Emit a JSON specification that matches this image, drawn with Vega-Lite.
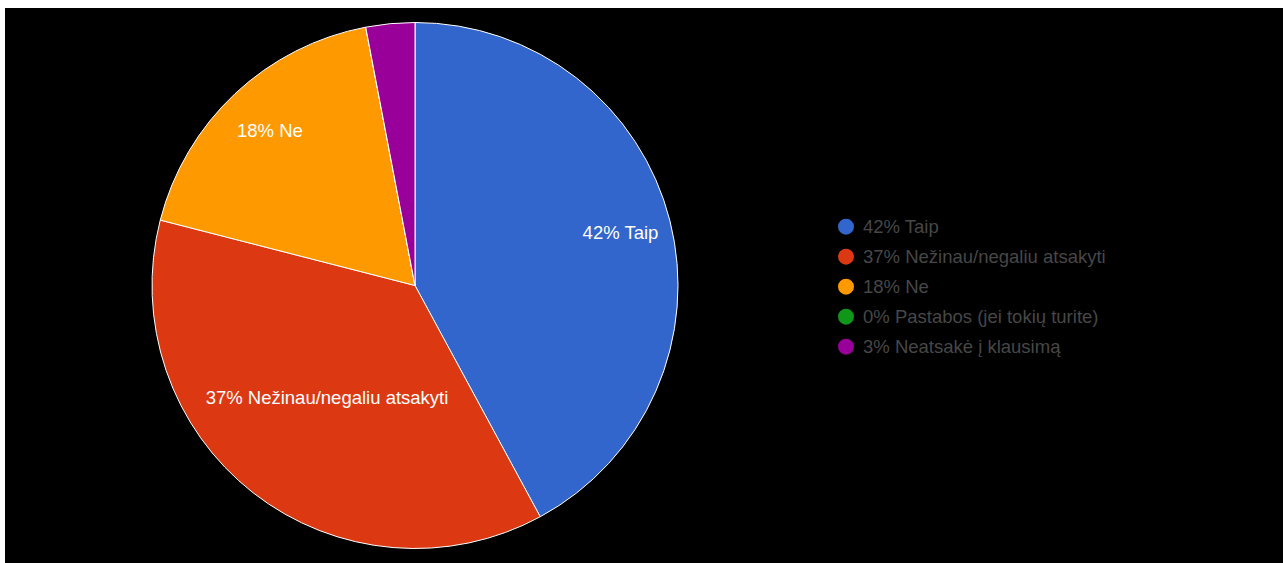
{
  "$schema": "https://vega.github.io/schema/vega-lite/v6.json",
  "background": "white",
  "padding": {"left": 5, "top": 8, "right": 0, "bottom": 0},
  "spacing": 0,
  "config": {"view": {"fill": "black", "stroke": null}, "font": "Liberation Sans"},
  "data": {
    "values": [
      {"category": "Taip", "value": 42.1, "order": 1},
      {"category": "Nežinau/negaliu atsakyti", "value": 36.9, "order": 2},
      {"category": "Ne", "value": 18.0, "order": 3},
      {"category": "Pastabos (jei tokių turite)", "value": 0, "order": 4},
      {"category": "Neatsakė į klausimą", "value": 3.0, "order": 5}
    ]
  },
  "transform": [
    {"joinaggregate": [{"op": "sum", "field": "value", "as": "total"}]},
    {"calculate": "format(datum.value / datum.total, '.0%') + ' ' + datum.category", "as": "label"}
  ],
  "hconcat": [
    {
      "width": 820,
      "height": 555,
      "view": {"fill": "black", "stroke": null},
      "encoding": {
        "theta": {"field": "value", "type": "quantitative", "stack": true},
        "order": {"field": "order", "type": "quantitative"},
        "color": {
          "field": "category",
          "type": "nominal",
          "scale": {
            "domain": ["Taip", "Nežinau/negaliu atsakyti", "Ne", "Pastabos (jei tokių turite)", "Neatsakė į klausimą"],
            "range": ["#3366cc", "#dc3912", "#ff9900", "#109618", "#990099"]
          },
          "legend": null
        }
      },
      "layer": [
        {"mark": {"type": "arc", "outerRadius": 263, "stroke": "white", "strokeWidth": 1}},
        {
          "mark": {"type": "text", "radius": 212, "fill": "white", "fontSize": 18.5, "align": "center", "baseline": "middle"},
          "encoding": {
            "text": {"condition": {"test": "datum.value >= 10 && length(datum.label) < 15", "field": "label"}, "value": ""}
          }
        },
        {
          "mark": {"type": "text", "radius": 143, "fill": "white", "fontSize": 18.5, "align": "center", "baseline": "middle"},
          "encoding": {
            "text": {"condition": {"test": "datum.value >= 10 && length(datum.label) >= 15", "field": "label"}, "value": ""}
          }
        }
      ]
    },
    {
      "width": 458,
      "height": 555,
      "view": {"fill": "black", "stroke": null},
      "encoding": {
        "y": {
          "field": "category",
          "type": "nominal",
          "scale": {"type": "point", "padding": 0, "range": [218.7, 338.7], "domain": ["Taip", "Nežinau/negaliu atsakyti", "Ne", "Pastabos (jei tokių turite)", "Neatsakė į klausimą"]},
          "axis": null
        }
      },
      "layer": [
        {
          "mark": {"type": "circle", "size": 254, "opacity": 1},
          "encoding": {
            "x": {"datum": 21, "type": "quantitative", "scale": {"domain": [0, 458], "nice": false}, "axis": null},
            "color": {"field": "category", "type": "nominal", "legend": null}
          }
        },
        {
          "mark": {"type": "text", "align": "left", "baseline": "middle", "fontSize": 18.5, "fill": "#474747"},
          "encoding": {
            "x": {"datum": 38, "type": "quantitative"},
            "text": {"field": "label"}
          }
        }
      ]
    }
  ]
}
